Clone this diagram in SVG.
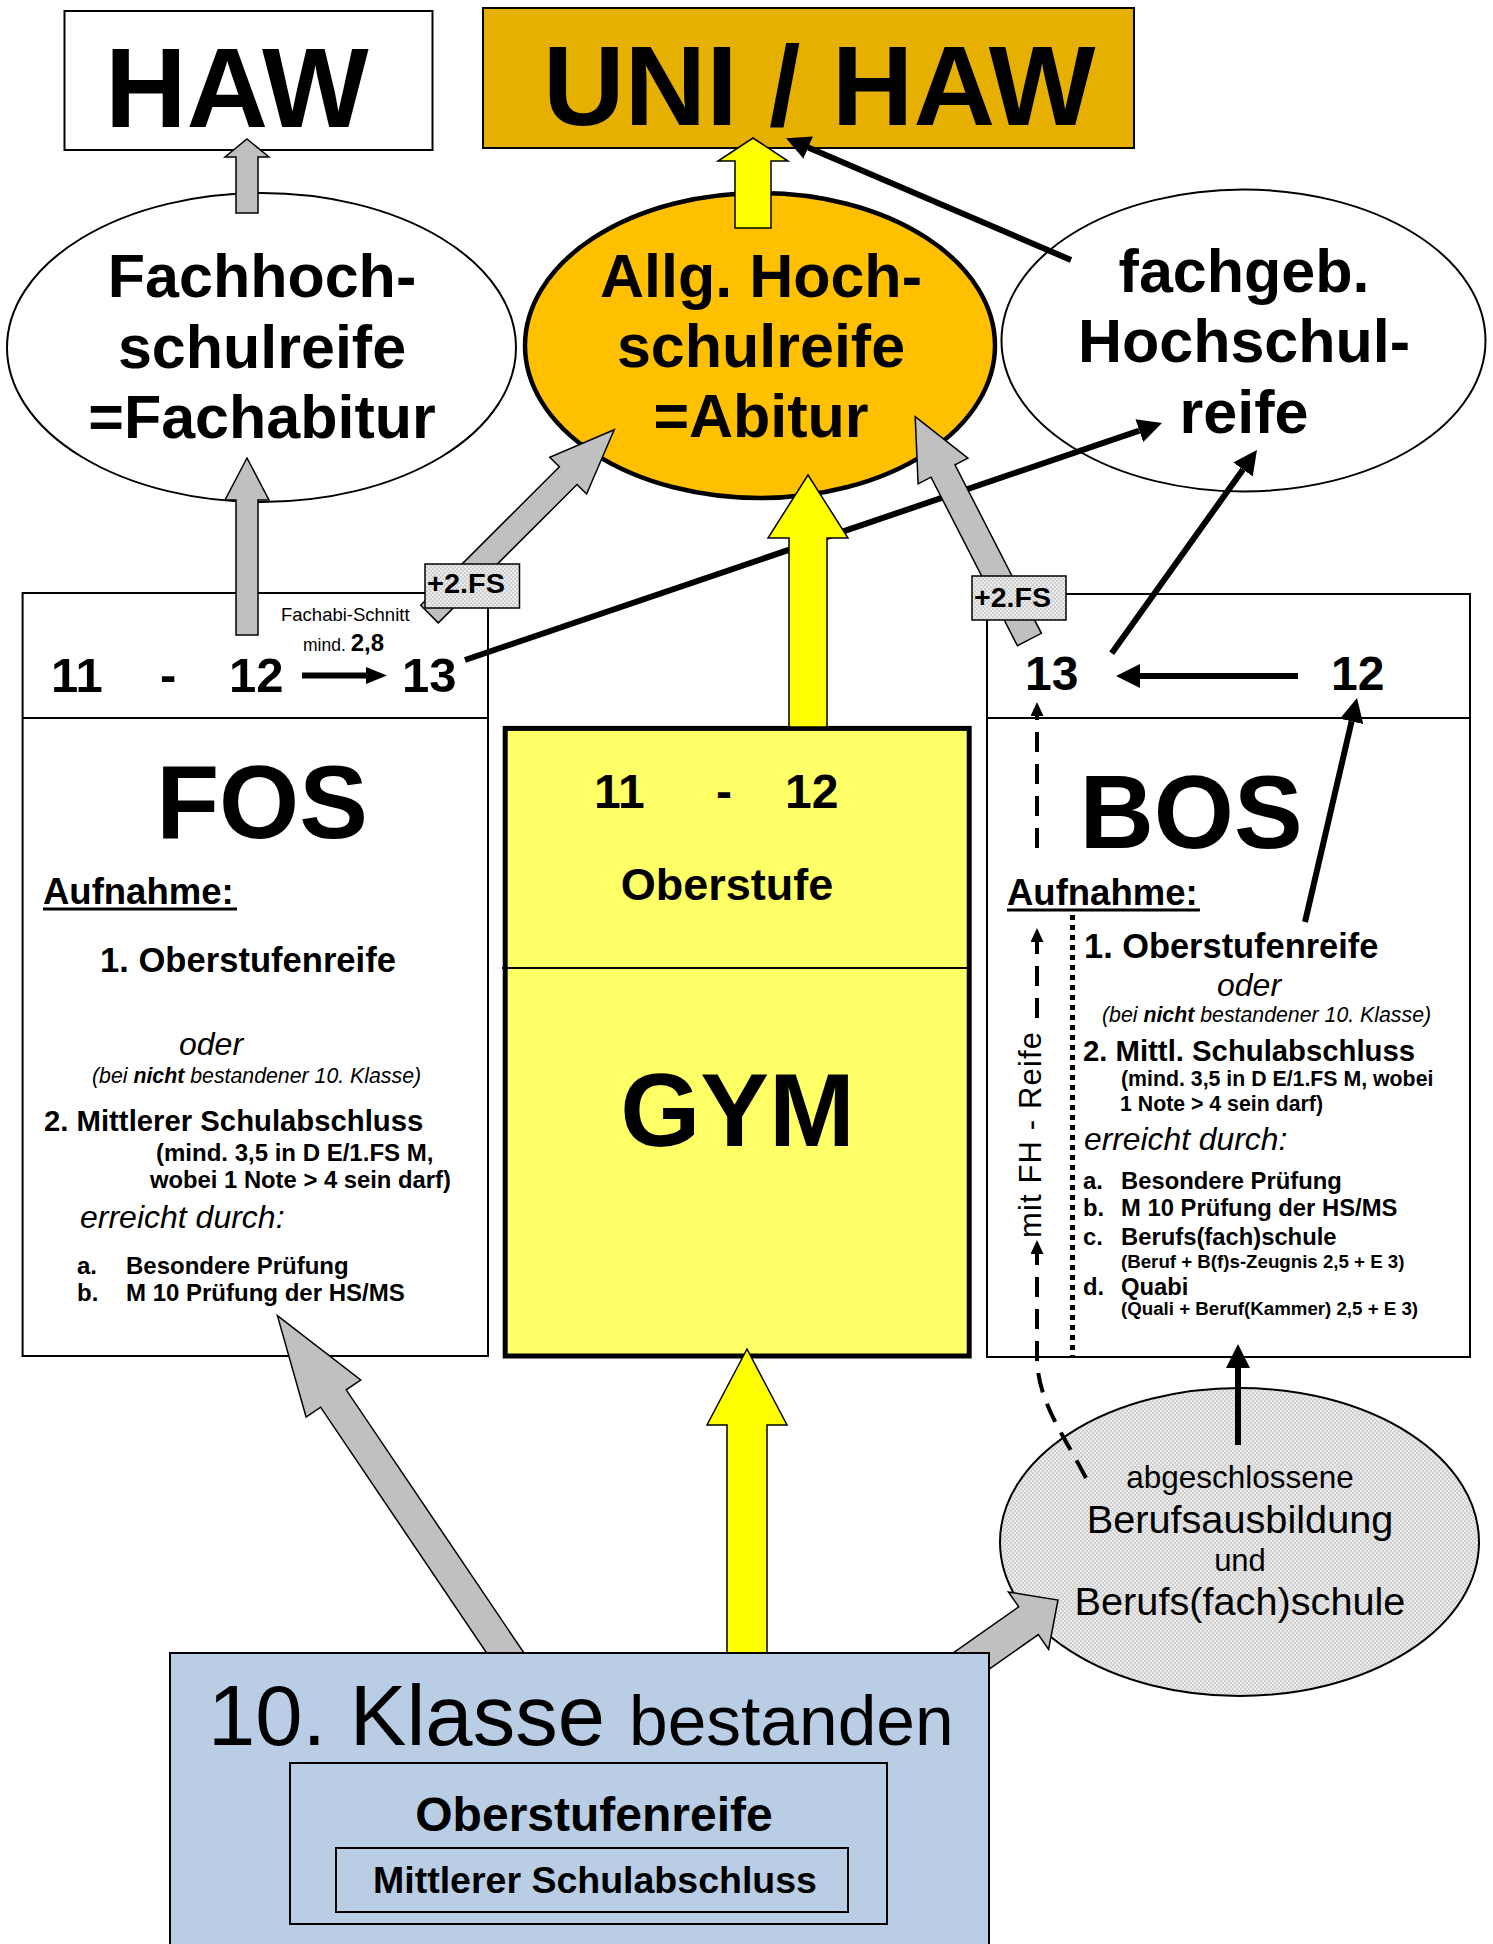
<svg xmlns="http://www.w3.org/2000/svg" width="1493" height="1944" viewBox="0 0 1493 1944">
<defs>
<pattern id="pt" width="4" height="4" patternUnits="userSpaceOnUse">
<rect width="4" height="4" fill="#EAEAEA"/>
<rect width="2" height="2" fill="#D0D0D0"/>
<rect x="2" y="2" width="2" height="2" fill="#D0D0D0"/>
</pattern>
<marker id="ah" viewBox="0 0 24 24" refX="0" refY="12" markerWidth="24" markerHeight="24" markerUnits="userSpaceOnUse" orient="auto"><path d="M0,0 L24,12 L0,24 Z" fill="#000"/></marker>
<marker id="ahs" viewBox="0 0 21 17" refX="0" refY="8.5" markerWidth="21" markerHeight="17" markerUnits="userSpaceOnUse" orient="auto"><path d="M0,0 L21,8.5 L0,17 Z" fill="#000"/></marker>
<marker id="ahd" viewBox="0 0 14 13" refX="0" refY="6.5" markerWidth="14" markerHeight="13" markerUnits="userSpaceOnUse" orient="auto"><path d="M0,0 L14,6.5 L0,13 Z" fill="#000"/></marker>
<style>
text{font-family:'Liberation Sans',Arial,Helvetica,sans-serif;fill:#000}
.b{font-weight:bold}
.i{font-style:italic}
.c{text-anchor:middle}
.box{fill:#fff;stroke:#000;stroke-width:2}
.ell{fill:#fff;stroke:#000;stroke-width:2}
.div{stroke:#000;stroke-width:2}
.gray{fill:#C0C0C0;stroke:#000;stroke-width:1.5}
.yel{fill:#FFFF00;stroke:#000;stroke-width:1.5}
.bl{fill:none;stroke:#000;stroke-width:6}
.dash{fill:none;stroke:#000;stroke-width:4;stroke-dasharray:20 12}
.lbl{fill:url(#pt);stroke:#000;stroke-width:1.5}
</style>
</defs>
<rect width="1493" height="1944" fill="#fff"/>

<g id="haw">
<rect class="box" x="64.5" y="11" width="368" height="139"/>
<text class="b" x="105" y="127" font-size="113">HAW</text>
</g>

<g id="uni-haw">
<rect x="483" y="8" width="651" height="140" fill="#E5B000" stroke="#000" stroke-width="2"/>
<text class="b" x="543" y="124.5" font-size="113">UNI / HAW</text>
</g>

<g id="fachhochschulreife">
<ellipse class="ell" cx="261.5" cy="347.5" rx="254.5" ry="154.5"/>
<text class="b c" x="262" y="297" font-size="61">Fachhoch-</text>
<text class="b c" x="262" y="368" font-size="61">schulreife</text>
<text class="b c" x="262" y="438" font-size="61">=Fachabitur</text>
</g>

<g id="allg-hochschulreife">
<ellipse cx="760" cy="345.5" rx="235" ry="152.5" fill="#FFC000" stroke="#000" stroke-width="4.5"/>
<text class="b c" x="761" y="297" font-size="61">Allg. Hoch-</text>
<text class="b c" x="761" y="367" font-size="61">schulreife</text>
<text class="b c" x="761" y="437" font-size="61">=Abitur</text>
</g>

<g id="fachgeb-hochschulreife">
<ellipse class="ell" cx="1243.5" cy="340.5" rx="242" ry="151"/>
<text class="b c" x="1244" y="292" font-size="61">fachgeb.</text>
<text class="b c" x="1244" y="362" font-size="61">Hochschul-</text>
<text class="b c" x="1244" y="433" font-size="61">reife</text>
</g>

<g id="fos">
<rect class="box" x="22.6" y="593" width="465.4" height="763"/>
<line class="div" x1="22.6" y1="718" x2="488" y2="718"/>
<text class="b" x="51" y="692" font-size="49">11</text>
<text class="b" x="160" y="692" font-size="49">-</text>
<text class="b" x="229" y="692" font-size="49">12</text>
<text class="b" x="402" y="692" font-size="49">13</text>
<text x="281" y="621" font-size="18.5">Fachabi-Schnitt</text>
<text x="303" y="651" font-size="17.5">mind. <tspan class="b" font-size="24">2,8</tspan></text>
<text class="b c" x="262" y="838" font-size="103">FOS</text>
<text class="b" x="43" y="904" font-size="36.5">Aufnahme:</text>
<line x1="43" y1="909" x2="237" y2="909" stroke="#000" stroke-width="3"/>
<text class="b" x="100" y="972" font-size="34.6">1. Oberstufenreife</text>
<text class="i" x="179" y="1055" font-size="32">oder</text>
<text class="i" x="92" y="1083" font-size="21.3">(bei <tspan class="b">nicht</tspan> bestandener 10. Klasse)</text>
<text class="b" x="44" y="1131" font-size="29.3">2. Mittlerer Schulabschluss</text>
<text class="b" x="156" y="1161" font-size="24">(mind. 3,5 in D E/1.FS M,</text>
<text class="b" x="150" y="1188" font-size="23.8">wobei 1 Note &gt; 4 sein darf)</text>
<text class="i" x="80" y="1228" font-size="32">erreicht durch:</text>
<text class="b" x="77" y="1274" font-size="24">a.</text>
<text class="b" x="126" y="1274" font-size="24">Besondere Prüfung</text>
<text class="b" x="77" y="1301" font-size="24">b.</text>
<text class="b" x="126" y="1301" font-size="24">M 10 Prüfung der HS/MS</text>
</g>

<g id="gym">
<rect x="505.2" y="728.4" width="464" height="627.6" fill="#FFFF66" stroke="#000" stroke-width="5"/>
<line class="div" x1="502" y1="968" x2="969" y2="968"/>
<text class="b" x="594" y="808" font-size="48">11</text>
<text class="b" x="716" y="808" font-size="48">-</text>
<text class="b" x="785" y="808" font-size="48">12</text>
<text class="b c" x="727" y="900" font-size="45">Oberstufe</text>
<text class="b c" x="737.5" y="1145.5" font-size="103">GYM</text>
</g>

<g id="bos">
<rect class="box" x="987" y="594" width="483" height="763"/>
<line class="div" x1="987" y1="718" x2="1470" y2="718"/>
<text class="b" x="1025" y="690" font-size="48">13</text>
<text class="b" x="1331" y="690" font-size="48">12</text>
<text class="b c" x="1191" y="848" font-size="103">BOS</text>
<text class="b" x="1007" y="905" font-size="36.5">Aufnahme:</text>
<line x1="1007" y1="910" x2="1200" y2="910" stroke="#000" stroke-width="3"/>
<text class="b" x="1084" y="958" font-size="34.4">1. Oberstufenreife</text>
<text class="i" x="1217" y="996" font-size="32">oder</text>
<text class="i" x="1102" y="1022" font-size="21.3">(bei <tspan class="b">nicht</tspan> bestandener 10. Klasse)</text>
<text class="b" x="1083" y="1061" font-size="29.3">2. Mittl. Schulabschluss</text>
<text class="b" x="1121" y="1086" font-size="21.3">(mind. 3,5 in D E/1.FS M, wobei</text>
<text class="b" x="1120" y="1111" font-size="21.3">1 Note &gt; 4 sein darf)</text>
<text class="i" x="1084" y="1150" font-size="31.8">erreicht durch:</text>
<text class="b" x="1083" y="1189" font-size="23.8">a.</text>
<text class="b" x="1121" y="1189" font-size="23.8">Besondere Prüfung</text>
<text class="b" x="1083" y="1216" font-size="23.8">b.</text>
<text class="b" x="1121" y="1216" font-size="23.8">M 10 Prüfung der HS/MS</text>
<text class="b" x="1083" y="1245" font-size="23.8">c.</text>
<text class="b" x="1121" y="1245" font-size="23.8">Berufs(fach)schule</text>
<text class="b" x="1121" y="1268" font-size="18.7">(Beruf + B(f)s-Zeugnis 2,5 + E 3)</text>
<text class="b" x="1083" y="1295" font-size="23.8">d.</text>
<text class="b" x="1121" y="1295" font-size="23.8">Quabi</text>
<text class="b" x="1121" y="1315" font-size="18.7">(Quali + Beruf(Kammer) 2,5 + E 3)</text>
<line x1="1072.5" y1="915" x2="1072.5" y2="1356" stroke="#000" stroke-width="5" stroke-dasharray="5 5"/>
<text transform="translate(1041,1135) rotate(-90)" class="c" font-size="31" textLength="206" lengthAdjust="spacing">mit FH - Reife</text>
</g>

<g id="berufsausbildung">
<ellipse cx="1239.5" cy="1542" rx="239.5" ry="154" fill="url(#pt)" stroke="#000" stroke-width="2"/>
<text class="c" x="1240" y="1488" font-size="31.5">abgeschlossene</text>
<text class="c" x="1240" y="1533" font-size="39.7">Berufsausbildung</text>
<text class="c" x="1240" y="1571" font-size="31">und</text>
<text class="c" x="1240" y="1615" font-size="39.7">Berufs(fach)schule</text>
</g>

<g id="connectors">
<line class="bl" x1="1071" y1="260" x2="808.2" y2="147.6" marker-end="url(#ah)"/>
<line class="bl" x1="465" y1="660" x2="1139.3" y2="430.7" marker-end="url(#ah)"/>
<line class="bl" x1="1111.7" y1="653.3" x2="1243" y2="469.5" marker-end="url(#ah)"/>
<line class="bl" x1="1298" y1="676" x2="1140" y2="676" stroke-width="7" marker-end="url(#ah)"/>
<line class="bl" x1="302" y1="675.5" x2="366" y2="675.5" stroke-width="5" marker-end="url(#ahs)"/>
<line class="bl" x1="1305" y1="922" x2="1351.6" y2="721.4" marker-end="url(#ah)"/>
<line class="bl" x1="1238" y1="1445" x2="1238" y2="1368" stroke-width="8" marker-end="url(#ah)"/>
<path class="dash" d="M1037 848 V716" marker-end="url(#ahd)"/>
<path class="dash" d="M1037 1018 V942" marker-end="url(#ahd)"/>
<path class="dash" d="M1086 1478 C1062 1432 1037 1400 1037 1356 V1254" marker-end="url(#ahd)"/>
<polygon class="gray" points="247,139 269,157 258,157 258,213 236,213 236,157 225,157"/>
<polygon class="gray" points="247,458 269,500 258,500 258,635 236,635 236,500 225,500"/>
<polygon class="yel" points="753,138 788,161 771,161 771,228 735,228 735,161 718,161"/>
<polygon class="yel" points="808,475 848,538 827,538 827,727 789,727 789,538 768,538"/>
<polygon class="yel" points="747,1349 787,1425 767,1425 767,1660 727,1660 727,1425 707,1425"/>
<polygon class="gray" points="614.2,429.7 586.6,494 577,484.5 438.3,622.9 420.7,605.2 559.4,466.8 549.8,457.2"/>
<polygon class="gray" points="915.2,416.7 967.9,458.2 955,464.8 1041.4,633.3 1017.4,645.7 931,477.2 918.1,483.8"/>
<polygon class="gray" points="277.4,1315.6 360.7,1380 346.2,1389.8 529.6,1661.3 504,1678.7 320.6,1407.2 306.1,1417"/>
<polygon class="gray" points="1058,1600 1048.6,1649.4 1038.3,1634.6 936.8,1705.9 917.2,1678.1 1018.7,1606.8 1008.4,1592"/>
</g>

<g id="klasse10">
<rect x="170" y="1653" width="819" height="310" fill="#B9CDE5" stroke="#000" stroke-width="2"/>
<text x="208" y="1745" font-size="85">10. Klasse</text>
<text x="629" y="1745" font-size="69.5">bestanden</text>
<rect x="290" y="1763" width="597" height="161" fill="none" stroke="#000" stroke-width="2"/>
<text class="b c" x="594" y="1831" font-size="48">Oberstufenreife</text>
<rect x="336" y="1848" width="512" height="64" fill="none" stroke="#000" stroke-width="2"/>
<text class="b c" x="595" y="1893" font-size="37.5">Mittlerer Schulabschluss</text>
</g>

<g id="label-fos-2fs">
<rect class="lbl" x="425" y="564" width="94.5" height="44"/>
<text class="b" x="427" y="593" font-size="27" textLength="78" lengthAdjust="spacingAndGlyphs">+2.FS</text>
</g>

<g id="label-bos-2fs">
<rect class="lbl" x="972" y="576" width="94" height="44"/>
<text class="b" x="974" y="607" font-size="27" textLength="77" lengthAdjust="spacingAndGlyphs">+2.FS</text>
</g>
</svg>
